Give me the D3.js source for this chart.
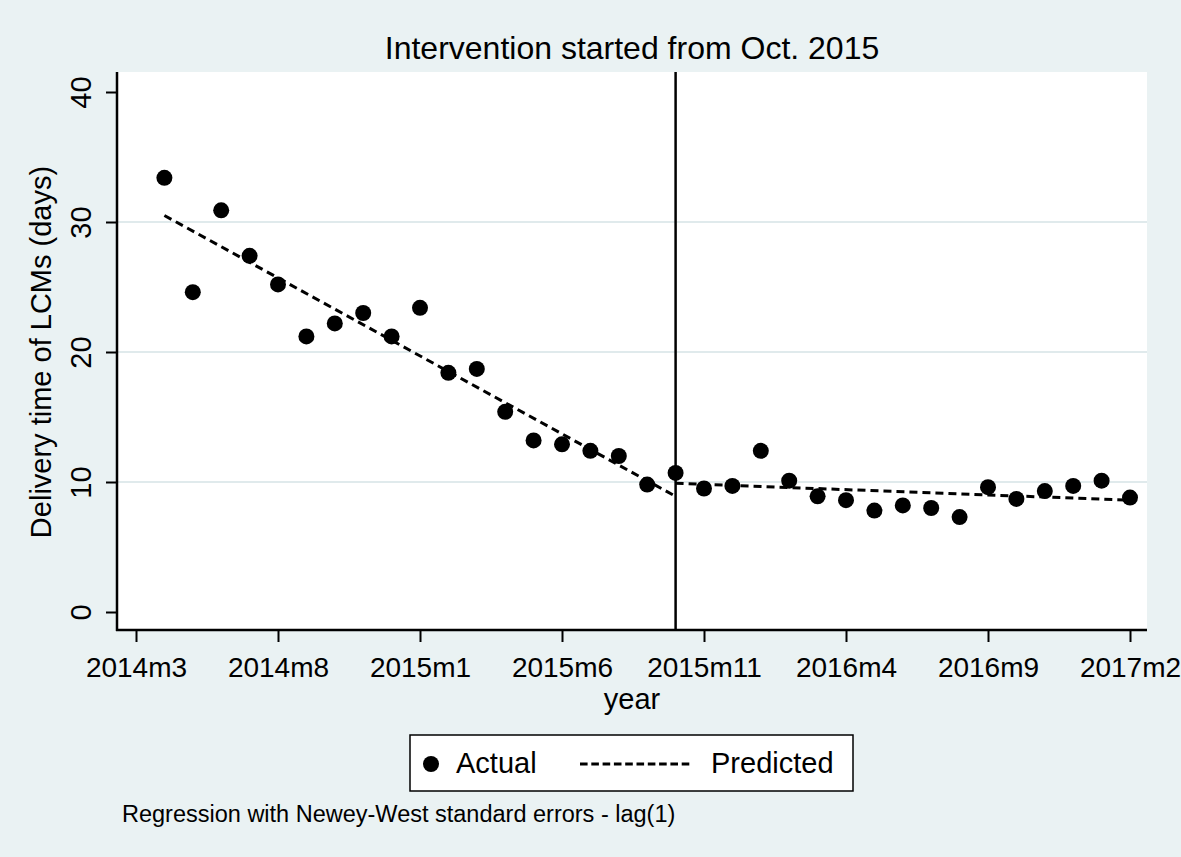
<!DOCTYPE html>
<html>
<head>
<meta charset="utf-8">
<script src="https://cdn.jsdelivr.net/npm/d3@7"></script>
<style>
  html, body { margin: 0; padding: 0; background: #eaf2f3; }
  svg { display: block; font-family: "Liberation Sans", Arial, Helvetica, sans-serif; }
</style>
</head>
<body>
<div id="chart"></div>
<script>
// months of the observed series
var months = ['2014m4','2014m5','2014m6','2014m7','2014m8','2014m9','2014m10','2014m11','2014m12',
  '2015m1','2015m2','2015m3','2015m4','2015m5','2015m6','2015m7','2015m8','2015m9','2015m10',
  '2015m11','2015m12','2016m1','2016m2','2016m3','2016m4','2016m5','2016m6','2016m7','2016m8',
  '2016m9','2016m10','2016m11','2016m12','2017m1','2017m2'];

// delivery time, days
var actual = [33.4, 24.6, 30.9, 27.4, 25.2, 21.2, 22.2, 23.0, 21.2,
  23.4, 18.4, 18.7, 15.4, 13.2, 12.9, 12.4, 12.0, 9.8, 10.7,
  9.5, 9.7, 12.4, 10.1, 8.9, 8.6, 7.8, 8.2, 8.0, 7.3,
  9.6, 8.7, 9.3, 9.7, 10.1, 8.8];

// fitted segments (start / end of each regression line)
var predPreMonths = ['2014m4', '2015m10'];
var predPre = [30.5, 8.9];
var predPostMonths = ['2015m10', '2017m2'];
var predPost = [9.9, 8.6];

var interventionMonth = '2015m10';

var xTickLabels = ['2014m3','2014m8','2015m1','2015m6','2015m11','2016m4','2016m9','2017m2'];
var yTicks = [0, 10, 20, 30, 40];
var yGrid = [10, 20, 30];

var titleText = 'Intervention started from Oct. 2015';
var yTitle = 'Delivery time of LCMs (days)';
var xTitle = 'year';
var noteText = 'Regression with Newey-West standard errors - lag(1)';

// month string -> index from 2014m3
function mIndex(s){
  var p = s.split('m');
  return (Number(p[0]) - 2014) * 12 + Number(p[1]) - 3;
}

var W = 1181, H = 857;
var plot = {l: 117, r: 1147, t: 72, b: 630};

var svg = d3.select('#chart').append('svg')
  .attr('width', W).attr('height', H);

svg.append('rect').attr('width', W).attr('height', H).attr('fill', '#eaf2f3');

svg.append('rect')
  .attr('x', plot.l).attr('y', plot.t)
  .attr('width', plot.r - plot.l).attr('height', plot.b - plot.t)
  .attr('fill', '#ffffff');

var x = d3.scaleLinear().domain([0, 35]).range([136, 1130]);
var y = d3.scaleLinear().domain([0, 40]).range([612, 92]);

// gridlines
svg.append('g').attr('class', 'grid')
  .selectAll('line').data(yGrid).enter().append('line')
  .attr('x1', plot.l).attr('x2', plot.r)
  .attr('y1', d => y(d)).attr('y2', d => y(d))
  .attr('stroke', '#e0eaec').attr('stroke-width', 2);

// y axis
var yAxis = svg.append('g')
  .attr('transform', 'translate(' + plot.l + ',0)')
  .call(d3.axisLeft(y).tickValues(yTicks).tickSize(11).tickFormat(d3.format('d')));
yAxis.select('.domain').remove();
yAxis.selectAll('.tick line').attr('stroke', '#000').attr('stroke-width', 2);
yAxis.selectAll('.tick text')
  .attr('transform', 'rotate(-90)')
  .attr('x', 0).attr('y', -26).attr('dy', 0)
  .attr('text-anchor', 'middle')
  .attr('font-size', 29).attr('fill', '#000');

// x axis
var xAxis = svg.append('g')
  .attr('transform', 'translate(0,' + plot.b + ')')
  .call(d3.axisBottom(x).tickValues(xTickLabels.map(mIndex)).tickSize(12)
    .tickFormat((d, i) => xTickLabels[i]));
xAxis.select('.domain').remove();
xAxis.selectAll('.tick line').attr('stroke', '#000').attr('stroke-width', 2);
xAxis.selectAll('.tick text')
  .attr('y', 47).attr('dy', 0)
  .attr('font-size', 28).attr('fill', '#000');

// axis lines
svg.append('line')
  .attr('x1', plot.l).attr('x2', plot.l).attr('y1', plot.t).attr('y2', plot.b + 1)
  .attr('stroke', '#000').attr('stroke-width', 2.5);
svg.append('line')
  .attr('x1', plot.l - 1).attr('x2', plot.r).attr('y1', plot.b).attr('y2', plot.b)
  .attr('stroke', '#000').attr('stroke-width', 2.5);

// intervention line
svg.append('line')
  .attr('x1', x(mIndex(interventionMonth))).attr('x2', x(mIndex(interventionMonth)))
  .attr('y1', plot.t).attr('y2', plot.b)
  .attr('stroke', '#000').attr('stroke-width', 2.5);

// predicted lines
var line = d3.line().x(d => x(mIndex(d.m))).y(d => y(d.v));
[[predPreMonths, predPre], [predPostMonths, predPost]].forEach(function(seg){
  var pts = seg[0].map((m, i) => ({m: m, v: seg[1][i]}));
  svg.append('path')
    .datum(pts)
    .attr('d', line)
    .attr('fill', 'none')
    .attr('stroke', '#000')
    .attr('stroke-width', 3)
    .attr('stroke-dasharray', '8,5');
});

// actual points
svg.append('g').attr('class', 'points')
  .selectAll('circle').data(actual).enter().append('circle')
  .attr('cx', (d, i) => x(mIndex(months[i])))
  .attr('cy', d => y(d))
  .attr('r', 8)
  .attr('fill', '#000');

// titles
svg.append('text')
  .attr('x', (plot.l + plot.r) / 2).attr('y', 59)
  .attr('text-anchor', 'middle').attr('font-size', 32)
  .text(titleText);

svg.append('text')
  .attr('transform', 'translate(51,' + ((y(0) + y(40)) / 2) + ') rotate(-90)')
  .attr('text-anchor', 'middle').attr('font-size', 29)
  .text(yTitle);

svg.append('text')
  .attr('x', (plot.l + plot.r) / 2).attr('y', 709)
  .attr('text-anchor', 'middle').attr('font-size', 29)
  .text(xTitle);

// legend
var lg = svg.append('g').attr('class', 'legend');
lg.append('rect')
  .attr('x', 410).attr('y', 735).attr('width', 443).attr('height', 56)
  .attr('fill', '#fff').attr('stroke', '#000').attr('stroke-width', 1.5);
lg.append('circle').attr('cx', 431).attr('cy', 764).attr('r', 8).attr('fill', '#000');
lg.append('text').attr('x', 456).attr('y', 773).attr('font-size', 29).text('Actual');
lg.append('line')
  .attr('x1', 580).attr('x2', 691).attr('y1', 764).attr('y2', 764)
  .attr('stroke', '#000').attr('stroke-width', 3).attr('stroke-dasharray', '7.6,3.7');
lg.append('text').attr('x', 711).attr('y', 773).attr('font-size', 29).text('Predicted');

// note
svg.append('text')
  .attr('x', 122).attr('y', 822).attr('font-size', 23.5)
  .text(noteText);
</script>
</body>
</html>
